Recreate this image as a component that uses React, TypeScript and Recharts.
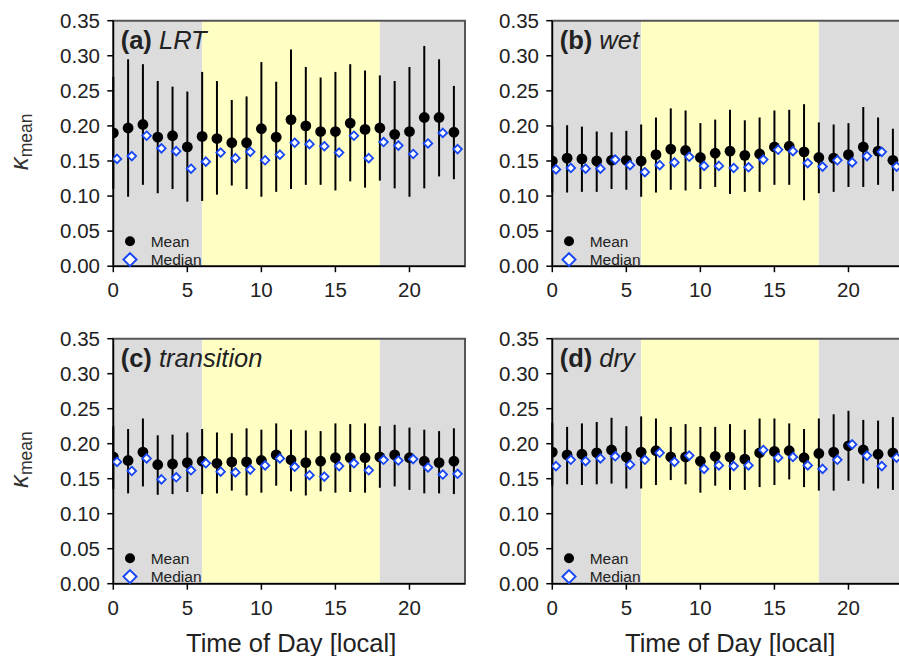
import React from "react";
import {
  ScatterChart,
  Scatter,
  XAxis,
  YAxis,
  ErrorBar,
  ReferenceArea,
  Legend,
} from "recharts";

const hours = [0, 1, 2, 3, 4, 5, 6, 7, 8, 9, 10, 11, 12, 13, 14, 15, 16, 17, 18, 19, 20, 21, 22, 23];
const medianOffset = 0.25;

const xTicks = [0, 5, 10, 15, 20];
const yTicks = [0, 0.05, 0.1, 0.15, 0.2, 0.25, 0.3, 0.35];

// (a) LRT
const meanA = [0.190, 0.197, 0.202, 0.184, 0.186, 0.170, 0.185, 0.182, 0.176, 0.176, 0.196, 0.184, 0.209, 0.200, 0.192, 0.192, 0.204, 0.195, 0.197, 0.188, 0.192, 0.212, 0.212, 0.191];
const upperA = [0.270, 0.295, 0.288, 0.264, 0.256, 0.249, 0.277, 0.264, 0.237, 0.242, 0.291, 0.263, 0.309, 0.284, 0.269, 0.277, 0.288, 0.279, 0.272, 0.264, 0.284, 0.314, 0.295, 0.257];
const lowerA = [0.110, 0.099, 0.116, 0.104, 0.110, 0.092, 0.093, 0.102, 0.115, 0.110, 0.099, 0.106, 0.110, 0.116, 0.116, 0.108, 0.121, 0.112, 0.122, 0.111, 0.099, 0.111, 0.128, 0.124];
const medianA = [0.153, 0.157, 0.186, 0.168, 0.164, 0.139, 0.149, 0.162, 0.154, 0.163, 0.151, 0.159, 0.176, 0.174, 0.171, 0.162, 0.186, 0.154, 0.177, 0.172, 0.160, 0.175, 0.190, 0.167];

// (b) wet
const meanB = [0.150, 0.154, 0.153, 0.150, 0.151, 0.151, 0.150, 0.159, 0.167, 0.165, 0.155, 0.161, 0.164, 0.158, 0.160, 0.170, 0.171, 0.163, 0.155, 0.154, 0.159, 0.170, 0.164, 0.151];
const upperB = [0.200, 0.201, 0.199, 0.192, 0.191, 0.193, 0.202, 0.212, 0.225, 0.222, 0.204, 0.209, 0.223, 0.208, 0.212, 0.222, 0.223, 0.231, 0.205, 0.202, 0.204, 0.227, 0.212, 0.196];
const lowerB = [0.105, 0.105, 0.106, 0.106, 0.110, 0.109, 0.099, 0.105, 0.109, 0.108, 0.110, 0.113, 0.103, 0.106, 0.106, 0.116, 0.116, 0.094, 0.104, 0.106, 0.113, 0.113, 0.116, 0.107];
const medianB = [0.138, 0.140, 0.139, 0.139, 0.152, 0.144, 0.134, 0.144, 0.148, 0.156, 0.143, 0.143, 0.140, 0.141, 0.152, 0.166, 0.164, 0.147, 0.142, 0.151, 0.148, 0.157, 0.163, 0.142];

// (c) transition
const meanC = [0.181, 0.176, 0.188, 0.170, 0.171, 0.173, 0.175, 0.172, 0.174, 0.174, 0.176, 0.184, 0.177, 0.173, 0.175, 0.180, 0.180, 0.180, 0.181, 0.184, 0.180, 0.175, 0.173, 0.175];
const upperC = [0.225, 0.221, 0.236, 0.212, 0.213, 0.216, 0.221, 0.216, 0.215, 0.222, 0.220, 0.229, 0.220, 0.219, 0.218, 0.229, 0.228, 0.229, 0.225, 0.227, 0.223, 0.220, 0.218, 0.222];
const lowerC = [0.135, 0.129, 0.139, 0.127, 0.128, 0.131, 0.128, 0.129, 0.133, 0.126, 0.130, 0.140, 0.132, 0.126, 0.132, 0.130, 0.131, 0.130, 0.137, 0.139, 0.134, 0.129, 0.129, 0.128];
const medianC = [0.174, 0.161, 0.179, 0.149, 0.152, 0.162, 0.172, 0.160, 0.159, 0.163, 0.169, 0.179, 0.167, 0.155, 0.153, 0.168, 0.172, 0.162, 0.177, 0.176, 0.178, 0.166, 0.156, 0.157];

// (d) dry
const meanD = [0.188, 0.184, 0.185, 0.187, 0.191, 0.181, 0.188, 0.190, 0.181, 0.181, 0.175, 0.182, 0.181, 0.178, 0.187, 0.189, 0.190, 0.180, 0.186, 0.188, 0.197, 0.191, 0.185, 0.187];
const upperD = [0.230, 0.224, 0.229, 0.231, 0.237, 0.225, 0.239, 0.236, 0.224, 0.228, 0.224, 0.224, 0.228, 0.220, 0.236, 0.236, 0.229, 0.221, 0.236, 0.242, 0.247, 0.234, 0.233, 0.238];
const lowerD = [0.140, 0.142, 0.141, 0.142, 0.143, 0.136, 0.136, 0.141, 0.148, 0.142, 0.130, 0.140, 0.134, 0.134, 0.138, 0.141, 0.149, 0.138, 0.133, 0.133, 0.147, 0.143, 0.136, 0.134];
const medianD = [0.168, 0.177, 0.175, 0.179, 0.182, 0.170, 0.177, 0.187, 0.174, 0.183, 0.164, 0.169, 0.168, 0.169, 0.191, 0.180, 0.181, 0.169, 0.164, 0.177, 0.199, 0.183, 0.168, 0.180];

const FONT = "'Liberation Sans', Arial, sans-serif";
const BLUE = "#1747f5";
const GRAY_BG = "#dcdcdc";
const YELLOW_BG = "#ffffc4";
const X_MAX = 23.75;

const MeanDot = (props: any) => <circle cx={props.cx} cy={props.cy} r={5.4} fill="#000" />;

const MedianDiamond = (props: any) => {
  const { cx, cy } = props;
  const s = 4.3;
  return (
    <polygon
      points={`${cx},${cy - s} ${cx + s},${cy} ${cx},${cy + s} ${cx - s},${cy}`}
      fill="#fff"
      stroke={BLUE}
      strokeWidth={1.8}
    />
  );
};

const LegendBox = () => (
  <svg width={100} height={40} style={{ display: "block" }}>
    <circle cx={12} cy={11.3} r={5} fill="#000" />
    <text x={32.7} y={16.5} fontSize={15.5} fill="#222" fontFamily={FONT}>
      Mean
    </text>
    <polygon points="12,23.1 18.5,29.6 12,36.1 5.5,29.6" fill="#fff" stroke={BLUE} strokeWidth={2} />
    <text x={32.7} y={34.8} fontSize={15.5} fill="#222" fontFamily={FONT}>
      Median
    </text>
  </svg>
);

interface PanelProps {
  left: number;
  top: number;
  height: number;
  plotTop: number;
  plotHeight: number;
  tag: string;
  name: string;
  mean: number[];
  upper: number[];
  lower: number[];
  median: number[];
  yLabel: boolean;
  xLabel: boolean;
}

function Panel({ left, top, height, plotTop, plotHeight, tag, name, mean, upper, lower, median, yLabel, xLabel }: PanelProps) {
  const width = 470;
  const xAxisHeight = height - plotTop - plotHeight;
  const meanData = hours.map((h, i) => ({
    x: h,
    y: mean[i],
    err: [mean[i] - lower[i], upper[i] - mean[i]],
  }));
  const medianData = hours.map((h, i) => ({ x: h + medianOffset, y: median[i] }));

  return (
    <div style={{ position: "absolute", left, top }}>
      <ScatterChart
        width={width}
        height={height}
        margin={{ top: plotTop, right: 5, left: 53.3, bottom: 0 }}
        style={{ fontFamily: FONT }}
      >
        <XAxis
          type="number"
          dataKey="x"
          domain={[0, X_MAX]}
          ticks={xTicks}
          allowDataOverflow
          height={xAxisHeight}
          tickSize={6}
          tickMargin={10.7}
          axisLine={{ stroke: "#000", strokeWidth: 1.5 }}
          tickLine={{ stroke: "#000", strokeWidth: 1.5 }}
          tick={{ fontSize: 20.5, fill: "#222" }}
          label={
            xLabel
              ? (p: any) => (
                  <text
                    x={p.viewBox.x + p.viewBox.width / 2 + 2}
                    y={p.viewBox.y + 68}
                    textAnchor="middle"
                    fontSize={25.5}
                    fill="#222"
                    fontFamily={FONT}
                  >
                    Time of Day [local]
                  </text>
                )
              : undefined
          }
        />
        <YAxis
          type="number"
          dataKey="y"
          domain={[0, 0.35]}
          ticks={yTicks}
          allowDataOverflow
          width={60}
          tickSize={6}
          tickMargin={7.3}
          tickFormatter={(v: number) => v.toFixed(2)}
          axisLine={{ stroke: "#000", strokeWidth: 1.5 }}
          tickLine={{ stroke: "#000", strokeWidth: 1.5 }}
          tick={{ fontSize: 20.5, fill: "#222" }}
          label={
            yLabel
              ? (p: any) => {
                  const cy = p.viewBox.y + p.viewBox.height / 2 - 1.5;
                  return (
                    <text
                      x={28}
                      y={cy}
                      transform={`rotate(-90, 28, ${cy})`}
                      textAnchor="middle"
                      fill="#333"
                      fontFamily={FONT}
                    >
                      <tspan fontSize={26} fontStyle="italic">κ</tspan>
                      <tspan fontSize={17.5} dy={4}>mean</tspan>
                    </text>
                  );
                }
              : undefined
          }
        />
        <ReferenceArea x1={0} x2={6} y1={0} y2={0.35} fill={GRAY_BG} fillOpacity={1} stroke="none" />
        <ReferenceArea x1={6} x2={18} y1={0} y2={0.35} fill={YELLOW_BG} fillOpacity={1} stroke="none" />
        <ReferenceArea x1={18} x2={X_MAX} y1={0} y2={0.35} fill={GRAY_BG} fillOpacity={1} stroke="none" />
        <ReferenceArea
          x1={0}
          x2={X_MAX}
          y1={0}
          y2={0.35}
          fill="none"
          stroke="#555"
          strokeWidth={2}
          label={(p: any) => (
            <text x={p.viewBox.x + 7.4} y={p.viewBox.y + 28.3} fontSize={25.5} fill="#222" fontFamily={FONT}>
              <tspan fontWeight="bold">{tag}</tspan>
              <tspan fontStyle="italic"> {name}</tspan>
            </text>
          )}
        />
        <Legend
          layout="horizontal"
          verticalAlign="middle"
          align="center"
          content={() => <LegendBox />}
          wrapperStyle={{ position: "absolute", left: 118, top: plotTop + plotHeight - 36, width: 100, height: 40 }}
        />
        <Scatter name="Mean" data={meanData} shape={MeanDot} isAnimationActive={false}>
          <ErrorBar dataKey="err" direction="y" width={0} stroke="#000" strokeWidth={2} isAnimationActive={false} />
        </Scatter>
        <Scatter name="Median" data={medianData} shape={MedianDiamond} isAnimationActive={false} />
      </ScatterChart>
    </div>
  );
}

export default function App() {
  return (
    <div
      style={{
        position: "absolute",
        left: 0,
        top: 0,
        width: 899,
        height: 656,
        overflow: "hidden",
        background: "#fff",
      }}
    >
      <Panel left={0} top={0} height={300} plotTop={20.7} plotHeight={245.5} tag="(a)" name="LRT"
        mean={meanA} upper={upperA} lower={lowerA} median={medianA} yLabel xLabel={false} />
      <Panel left={439} top={0} height={300} plotTop={20.7} plotHeight={245.5} tag="(b)" name="wet"
        mean={meanB} upper={upperB} lower={lowerB} median={medianB} yLabel={false} xLabel={false} />
      <Panel left={0} top={317.5} height={338.5} plotTop={20.7} plotHeight={245} tag="(c)" name="transition"
        mean={meanC} upper={upperC} lower={lowerC} median={medianC} yLabel xLabel />
      <Panel left={439} top={317.5} height={338.5} plotTop={20.7} plotHeight={245} tag="(d)" name="dry"
        mean={meanD} upper={upperD} lower={lowerD} median={medianD} yLabel={false} xLabel />
    </div>
  );
}
